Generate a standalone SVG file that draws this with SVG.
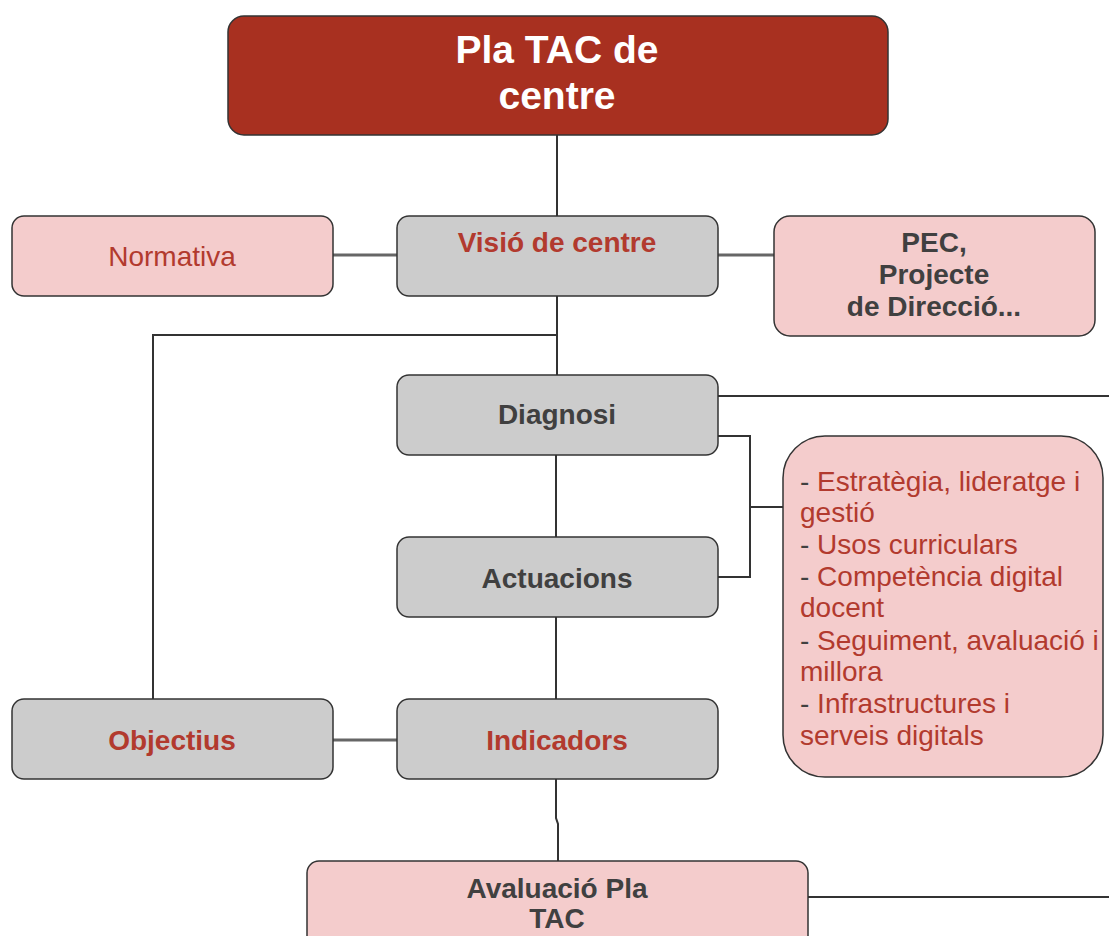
<svg xmlns="http://www.w3.org/2000/svg" width="1109" height="936" viewBox="0 0 1109 936">
<style>
.box{stroke:#333;stroke-width:1.5}
.pink{fill:#F4CCCC}
.gray{fill:#CCCCCC}
.title{fill:#A83020}
text{font-family:"Liberation Sans",Arial,sans-serif;font-size:28px;text-anchor:middle}
.b{font-weight:bold}
.red{fill:#B23A2E}
.dk{fill:#404040}
.wh{fill:#FFFFFF;font-size:39px;font-weight:bold}
.list{text-anchor:start;fill:#B23A2E}
.list tspan.d{fill:#404040}
.conn{fill:none;stroke:#333;stroke-width:2}
.conn2{fill:none;stroke:#666;stroke-width:3}
</style>
<rect width="1109" height="936" fill="#FFFFFF"/>
<g id="connectors">
<path class="conn" d="M557 135 V216"/>
<path class="conn2" d="M333 255 H397"/>
<path class="conn2" d="M718 255 H774"/>
<path class="conn" d="M557 296 V375"/>
<path class="conn" d="M557 335 H153 V699"/>
<path class="conn" d="M718 396 H1109"/>
<path class="conn" d="M718 436 H750 V577 H718"/>
<path class="conn" d="M750 507 H783"/>
<path class="conn" d="M556 455 V537"/>
<path class="conn" d="M556 617 V699"/>
<path class="conn2" d="M333 740 H397"/>
<path class="conn" d="M556 779 V818 L558 824 V861"/>
<path class="conn" d="M808 897 H1109"/>
</g>
<g id="pla-tac">
<rect class="box title" x="228" y="16" width="660" height="119" rx="16"/>
<text class="wh" x="557" y="63">Pla TAC de</text>
<text class="wh" x="557" y="109">centre</text>
</g>
<g id="normativa">
<rect class="box pink" x="12" y="216" width="321" height="80" rx="12"/>
<text class="red" x="172" y="266">Normativa</text>
</g>
<g id="visio">
<rect class="box gray" x="397" y="216" width="321" height="80" rx="12"/>
<text class="red b" x="557" y="252">Visió de centre</text>
</g>
<g id="pec">
<rect class="box pink" x="774" y="216" width="321" height="120" rx="16"/>
<text class="dk b" x="934" y="252">PEC,</text>
<text class="dk b" x="934" y="284">Projecte</text>
<text class="dk b" x="934" y="316">de Direcció...</text>
</g>
<g id="diagnosi">
<rect class="box gray" x="397" y="375" width="321" height="80" rx="12"/>
<text class="dk b" x="557" y="424">Diagnosi</text>
</g>
<g id="actuacions">
<rect class="box gray" x="397" y="537" width="321" height="80" rx="12"/>
<text class="dk b" x="557" y="588">Actuacions</text>
</g>
<g id="ambits">
<rect class="box pink" x="783" y="436" width="320" height="341" rx="42"/>
<text class="list" x="800" y="491"><tspan class="d">- </tspan>Estratègia, lideratge i</text>
<text class="list" x="800" y="522">gestió</text>
<text class="list" x="800" y="554"><tspan class="d">- </tspan>Usos curriculars</text>
<text class="list" x="800" y="586"><tspan class="d">- </tspan>Competència digital</text>
<text class="list" x="800" y="617">docent</text>
<text class="list" x="800" y="650"><tspan class="d">- </tspan>Seguiment, avaluació i</text>
<text class="list" x="800" y="681">millora</text>
<text class="list" x="800" y="713"><tspan class="d">- </tspan>Infrastructures i</text>
<text class="list" x="800" y="745">serveis digitals</text>
</g>
<g id="objectius">
<rect class="box gray" x="12" y="699" width="321" height="80" rx="12"/>
<text class="red b" x="172" y="750">Objectius</text>
</g>
<g id="indicadors">
<rect class="box gray" x="397" y="699" width="321" height="80" rx="12"/>
<text class="red b" x="557" y="750">Indicadors</text>
</g>
<g id="avaluacio">
<rect class="box pink" x="307" y="861" width="501" height="100" rx="12"/>
<text class="dk b" x="557" y="898">Avaluació Pla</text>
<text class="dk b" x="557" y="928">TAC</text>
</g>
</svg>
